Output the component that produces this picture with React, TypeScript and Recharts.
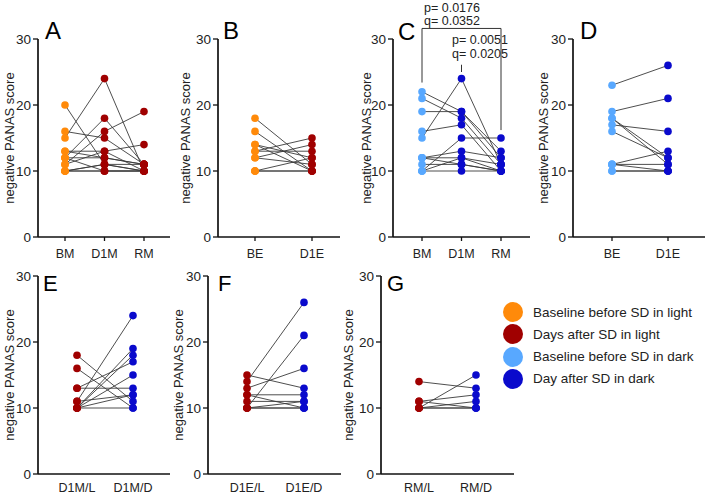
import { LineChart, Line, XAxis, YAxis, ReferenceLine } from 'recharts'

const FONT = '"Liberation Sans", Arial, Helvetica, sans-serif'

const ORANGE = '#ff8a0a'
const DARK_RED = '#a00000'
const LIGHT_BLUE = '#58a8ff'
const DARK_BLUE = '#0a0acc'
const INK = '#111'

const Y_TICKS = [0, 10, 20, 30]

// A: morning, light
const catsA = ['BM', 'D1M', 'RM']
const aBM = [20, 15, 16, 12, 11, 13, 12, 10, 10, 11, 13, 10, 12, 10]
const aD1M = [11, 24, 15, 18, 16, 13, 12, 11, 10, 13, 12, 11, 10, 10]
const aRM = [10, 10, 11, 11, 19, 14, 11, 10, 10, 10, 11, 11, 10, 10]

// B: evening, light
const catsB = ['BE', 'D1E']
const bBE = [18, 16, 14, 13, 12, 13, 12, 10, 10, 10, 14]
const bD1E = [11, 10, 12, 15, 14, 13, 11, 10, 12, 10, 10]

// C: morning, dark
const catsC = ['BM', 'D1M', 'RM']
const cBM = [15, 22, 21, 19, 16, 10, 12, 12, 11, 10, 10, 12]
const cD1M = [24, 19, 18, 19, 17, 15, 13, 12, 11, 12, 10, 11]
const cRM = [11, 12, 11, 13, 10, 15, 12, 11, 10, 10, 10, 10]

// D: evening, dark
const catsD = ['BE', 'D1E']
const dBE = [23, 19, 17, 18, 18, 16, 11, 11, 11, 10, 10]
const dD1E = [26, 21, 16, 12, 11, 12, 13, 11, 10, 10, 10]

// E-G: light vs dark
const catsE = ['D1M/L', 'D1M/D']
const eL = [11, 10, 10, 13, 10, 13, 18, 16, 10, 11, 10]
const eD = [24, 19, 18, 17, 15, 13, 11, 10, 12, 12, 10]

const catsF = ['D1E/L', 'D1E/D']
const fL = [14, 10, 15, 13, 12, 11, 10, 10, 10, 12]
const fD = [26, 21, 13, 16, 12, 11, 10, 11, 10, 10]

const catsG = ['RM/L', 'RM/D']
const gL = [14, 10, 11, 10, 10, 11, 10]
const gD = [13, 15, 12, 11, 10, 10, 10]

const LEGEND = [
  { color: ORANGE, text: 'Baseline before SD in light' },
  { color: DARK_RED, text: 'Days after SD in light' },
  { color: LIGHT_BLUE, text: 'Baseline before SD in dark' },
  { color: DARK_BLUE, text: 'Day after SD in dark' },
]

type PanelProps = {
  cats: string[]
  colors: string[]
  series: number[][]
  left: number
  top: number
  height: number
  axisX: number
  axisEnd: number
  labelX: number
  padL: number
  padR: number
  plotTop: number
  xAxisHeight: number
  bottom: number
  tickLines: boolean
  children?: React.ReactNode
}

function Panel(p: PanelProps) {
  const n = p.series[0].length
  const data = p.cats.map((cat, ci) => {
    const row: Record<string, string | number> = { cat }
    p.series[ci].forEach((v, si) => (row['s' + si] = v))
    return row
  })
  const keys = Array.from({ length: n }, (_, i) => 's' + i)
  const dot = (d: any) => {
    if (d.cx == null || d.cy == null) return <g key={d.key} />
    return <circle key={d.key} cx={d.cx} cy={d.cy} r={3.8} fill={p.colors[d.index]} stroke="none" />
  }
  const width = p.axisEnd + 2 - p.left
  return (
    <div style={{ position: 'absolute', left: p.left, top: p.top }}>
      <LineChart
        width={width}
        height={p.height}
        data={data}
        margin={{ top: p.plotTop - p.top, right: 2, bottom: p.bottom, left: 0 }}
      >
        <XAxis
          dataKey="cat"
          interval={0}
          padding={{ left: p.padL, right: p.padR }}
          height={p.xAxisHeight}
          tickSize={4}
          tickMargin={p.tickLines ? 8 : 5}
          tickLine={p.tickLines ? { stroke: INK, strokeWidth: 1.3 } : false}
          axisLine={{ stroke: INK, strokeWidth: 1.7 }}
          tick={{ fontSize: 12.5, fill: '#222', fontFamily: FONT }}
        />
        <YAxis
          type="number"
          domain={[0, 30]}
          ticks={Y_TICKS}
          width={p.axisX - p.left}
          tickSize={5}
          tickMargin={2}
          tickLine={{ stroke: INK, strokeWidth: 1.3 }}
          axisLine={{ stroke: INK, strokeWidth: 1.7 }}
          tick={{ fontSize: 13.5, fill: '#222', fontFamily: FONT }}
          label={{
            value: 'negative PANAS score',
            angle: -90,
            position: 'insideLeft',
            offset: p.labelX - p.left,
            style: { textAnchor: 'middle', fontSize: 13, fill: '#222', fontFamily: FONT },
          }}
        />
        {keys.map((k) => (
          <Line
            key={'l' + k}
            type="linear"
            dataKey={k}
            stroke="#3a3a3a"
            strokeWidth={0.9}
            dot={false}
            activeDot={false}
            isAnimationActive={false}
          />
        ))}
        {keys.map((k) => (
          <Line
            key={'d' + k}
            type="linear"
            dataKey={k}
            stroke="none"
            dot={dot}
            activeDot={false}
            isAnimationActive={false}
          />
        ))}
        {p.children}
      </LineChart>
    </div>
  )
}

const TOP = { top: 0, height: 265, plotTop: 39, xAxisHeight: 24, bottom: 4, tickLines: true }
const BOTTOM = { top: 237, height: 257, plotTop: 276, xAxisHeight: 20, bottom: 0, tickLines: false }

const bracket = { stroke: '#333', strokeWidth: 1, ifOverflow: 'visible' as const }

function Letter({ x, y, size, children }: { x: number; y: number; size: number; children: string }) {
  return (
    <div style={{ position: 'absolute', left: x, top: y, fontSize: size, lineHeight: 1, color: '#000' }}>
      {children}
    </div>
  )
}

function Note({ x, y, children }: { x: number; y: number; children: string }) {
  return (
    <div
      style={{
        position: 'absolute',
        left: x,
        top: y,
        transform: 'translate(-50%, -50%)',
        fontSize: 12.5,
        lineHeight: 1,
        color: '#222',
        whiteSpace: 'nowrap',
      }}
    >
      {children}
    </div>
  )
}

export default function App() {
  return (
    <div
      style={{
        position: 'absolute',
        left: 0,
        top: 0,
        width: 708,
        height: 494,
        background: '#fff',
        fontFamily: FONT,
        overflow: 'hidden',
      }}
    >
      <Panel {...TOP} cats={catsA} colors={[ORANGE, DARK_RED, DARK_RED]} series={[aBM, aD1M, aRM]}
        left={0} axisX={38} axisEnd={170} labelX={9} padL={27} padR={26} />
      <Panel {...TOP} cats={catsB} colors={[ORANGE, DARK_RED]} series={[bBE, bD1E]}
        left={175} axisX={218} axisEnd={340} labelX={185} padL={37} padR={28} />
      <Panel {...TOP} cats={catsC} colors={[LIGHT_BLUE, DARK_BLUE, DARK_BLUE]} series={[cBM, cD1M, cRM]}
        left={350} axisX={393} axisEnd={530} labelX={366} padL={29} padR={29}>
        <ReferenceLine {...bracket} segment={[{ x: 'BM', y: 31.6 }, { x: 'RM', y: 31.6 }]} />
        <ReferenceLine {...bracket} segment={[{ x: 'BM', y: 31.6 }, { x: 'BM', y: 23.4 }]} />
        <ReferenceLine {...bracket} segment={[{ x: 'RM', y: 31.6 }, { x: 'RM', y: 16.2 }]} />
        <ReferenceLine {...bracket} segment={[{ x: 'D1M', y: 26.1 }, { x: 'D1M', y: 25.0 }]} />
      </Panel>
      <Panel {...TOP} cats={catsD} colors={[LIGHT_BLUE, DARK_BLUE]} series={[dBE, dD1E]}
        left={535} axisX={573} axisEnd={705} labelX={543} padL={39} padR={37} />

      <Panel {...BOTTOM} cats={catsE} colors={[DARK_RED, DARK_BLUE]} series={[eL, eD]}
        left={0} axisX={38} axisEnd={170} labelX={9} padL={39} padR={37} />
      <Panel {...BOTTOM} cats={catsF} colors={[DARK_RED, DARK_BLUE]} series={[fL, fD]}
        left={172} axisX={208} axisEnd={341} labelX={178} padL={39} padR={37} />
      <Panel {...BOTTOM} cats={catsG} colors={[DARK_RED, DARK_BLUE]} series={[gL, gD]}
        left={342} axisX={381} axisEnd={514} labelX={348} padL={38} padR={38} />

      <Letter x={45} y={19} size={24}>A</Letter>
      <Letter x={223} y={19} size={24}>B</Letter>
      <Letter x={398} y={20} size={24}>C</Letter>
      <Letter x={580} y={19} size={24}>D</Letter>
      <Letter x={43} y={273} size={22}>E</Letter>
      <Letter x={218} y={273} size={22}>F</Letter>
      <Letter x={387} y={273} size={22}>G</Letter>

      <Note x={452} y={8}>p= 0.0176</Note>
      <Note x={452} y={21}>q= 0.0352</Note>
      <Note x={480} y={40}>p= 0.0051</Note>
      <Note x={480} y={54}>q= 0.0205</Note>

      {LEGEND.map((item, i) => (
        <div key={item.text} style={{ position: 'absolute', left: 503, top: 302 + i * 22.3, display: 'flex', alignItems: 'center', height: 20 }}>
          <div style={{ width: 20, height: 20, borderRadius: 10, background: item.color }} />
          <span style={{ marginLeft: 10, fontSize: 13.5, color: '#222', whiteSpace: 'nowrap' }}>{item.text}</span>
        </div>
      ))}
    </div>
  )
}
